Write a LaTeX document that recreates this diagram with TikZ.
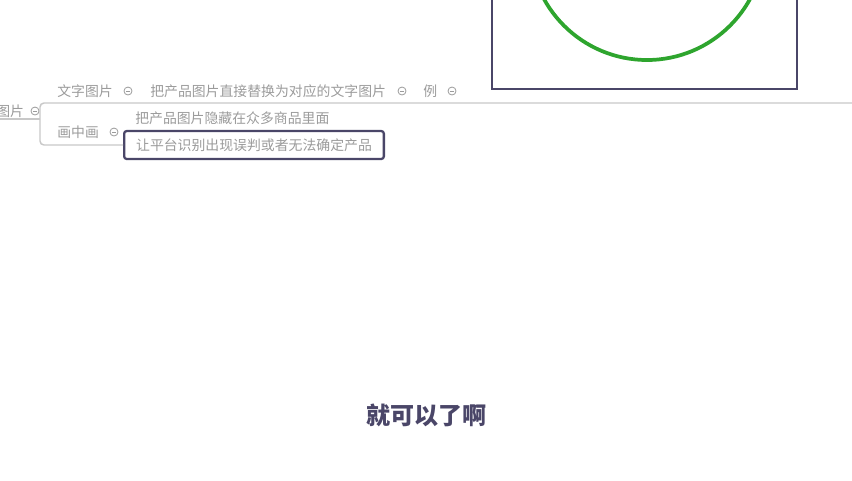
\documentclass[tikz,border=0pt]{standalone}
\usepackage{fontspec}
\newfontfamily\cjk{Noto Sans CJK SC}
\usetikzlibrary{positioning}
\definecolor{mapgray}{RGB}{155,155,155}
\definecolor{linegray}{RGB}{200,200,200}
\definecolor{selpurple}{RGB}{74,70,104}
\definecolor{ringgreen}{RGB}{46,165,46}
\tikzset{
  topic/.style={font=\cjk\fontsize{10.4}{12}\selectfont, text=mapgray, inner sep=0pt, anchor=west},
  selected/.style={topic, draw=selpurple, line width=1.7pt, rounded corners=2pt, fill=white, inner xsep=9pt, minimum height=21pt},
  fold/.style={circle, draw=mapgray, line width=0.6pt, minimum size=6pt, inner sep=0pt,
    path picture={\draw[mapgray, line width=0.6pt] ([xshift=-1.6pt]path picture bounding box.center) -- ([xshift=1.6pt]path picture bounding box.center);}},
  branch/.style={linegray, line width=1.1pt, rounded corners=3pt},
}
\begin{document}
\begin{tikzpicture}[x=0.75pt, y=-0.75pt]
        \useasboundingbox (0,0) rectangle (852,480);
        \clip (0,0) rectangle (852,480);

        % Picture frame with the green ring
        \draw[selpurple, line width=1.3pt] (492,-10) rectangle (797,89);
        \draw[ringgreen, line width=2.8pt] (647,-57.5) circle (117.5); % ring

        % Mind map branches
        \coordinate (split) at (40,119);
        \coordinate (rowend) at (852,103);
        \coordinate (picend) at (-10,119);

        \node[topic] (pic) at (-4,111) {图片};
        \node[fold] (f0) at (35,111) {};
        \node[topic] (wordpic) at (57,91) {文字图片};
        \node[fold] (f1) at (128,91) {};
        \node[topic] (replace) at (150,91) {把产品图片直接替换为对应的文字图片};
        \node[fold] (f2) at (402,91) {};
        \node[topic] (example) at (423,91) {例};
        \node[fold] (f3) at (452,91) {};
        \node[topic] (pip) at (57,132) {画中画};
        \node[fold] (f4) at (114,132) {};
        \node[topic] (hide) at (135,118) {把产品图片隐藏在众多商品里面};
        \node[selected] (confuse) at (123,145) {让平台识别出现误判或者无法确定产品};

        \draw[branch] (picend) -- (split);
        \draw[branch] (rowend) -| (split);
        \draw[branch] (split) |- (confuse.west);

        % Subtitle
        \node[font=\cjk\bfseries\fontsize{18}{22}\selectfont, text=selpurple] (subtitle) at (426,415) {就可以了啊};
    \end{tikzpicture}
\end{document}
